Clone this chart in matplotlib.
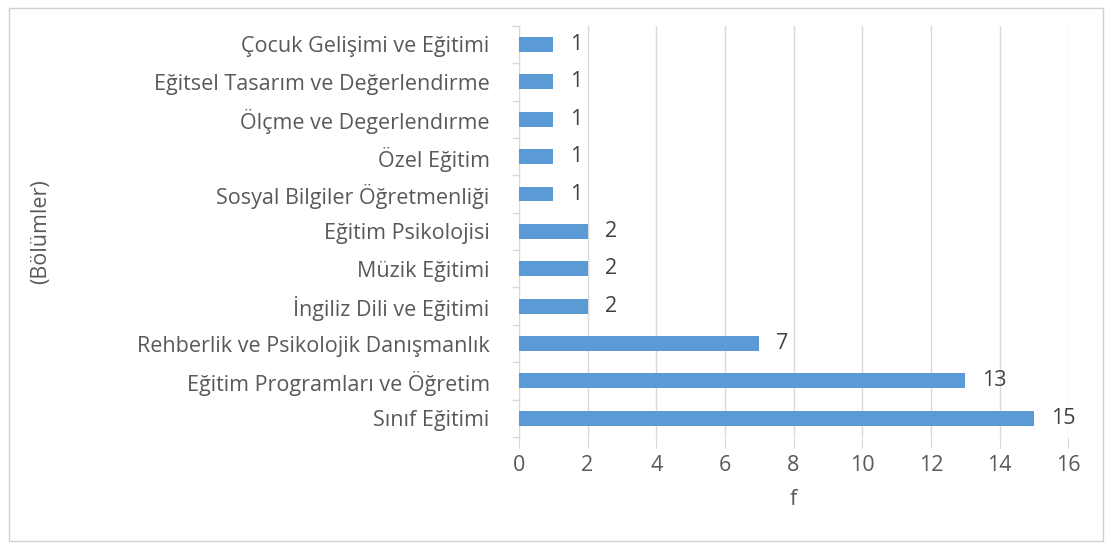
import matplotlib.pyplot as plt
from matplotlib.patches import Rectangle
import numpy as np

plt.rcParams['font.family'] = ['Open Sans', 'DejaVu Sans']

bolumler = [
    "Çocuk Gelişimi ve Eğitimi",
    "Eğitsel Tasarım ve Değerlendirme",
    "Ölçme ve Degerlendırme",
    "Özel Eğitim",
    "Sosyal Bilgiler Öğretmenliği",
    "Eğitim Psikolojisi",
    "Müzik Eğitimi",
    "İngiliz Dili ve Eğitimi",
    "Rehberlik ve Psikolojik Danışmanlık",
    "Eğitim Programları ve Öğretim",
    "Sınıf Eğitimi",
]
f_values = [1, 1, 1, 1, 1, 2, 2, 2, 7, 13, 15]

text_col = "#595959"
grid_col = "#d9d9d9"
bar_col = "#5b9bd5"
fs = 15.5

fig = plt.figure(figsize=(11.11, 5.49), dpi=100)
ax = fig.add_axes([0.467, 0.204, 0.4945, 0.749])

y = np.arange(len(bolumler))[::-1]
ax.barh(y, f_values, height=0.4, color=bar_col, zorder=3)
for yi, v in zip(y, f_values):
    ax.text(v + 0.5, yi, str(v), va="center", ha="left",
            fontsize=fs, color="#404040")

ax.set_xlim(0, 16)
ax.set_ylim(-0.5, len(bolumler) - 0.5)
ax.set_xticks(range(0, 17, 2))
ax.set_yticks(y)
ax.set_yticklabels(bolumler, fontsize=fs, color=text_col)
ax.set_yticks(np.arange(-0.5, len(bolumler)), minor=True)
ax.tick_params(axis="y", which="major", length=0, pad=21)
ax.tick_params(axis="y", which="minor", length=5, color=grid_col, width=1)
ax.tick_params(axis="x", length=8, color=grid_col, labelsize=fs,
               labelcolor=text_col, pad=5)
ax.grid(axis="x", color=grid_col, linewidth=1, zorder=0)

for s in ["top", "right", "bottom"]:
    ax.spines[s].set_visible(False)
ax.spines["left"].set_color(grid_col)

ax.set_xlabel("f", fontsize=fs, color=text_col, labelpad=9)
fig.text(0.037, 0.578, "(Bölümler)", rotation=90, va="center", ha="center",
         fontsize=fs, color=text_col)

fig.patches.append(Rectangle((0.008, 0.015), 0.985, 0.97, transform=fig.transFigure,
                             fill=False, edgecolor="#d0d0d0", linewidth=1))

fig.savefig("out.png", dpi=100)
